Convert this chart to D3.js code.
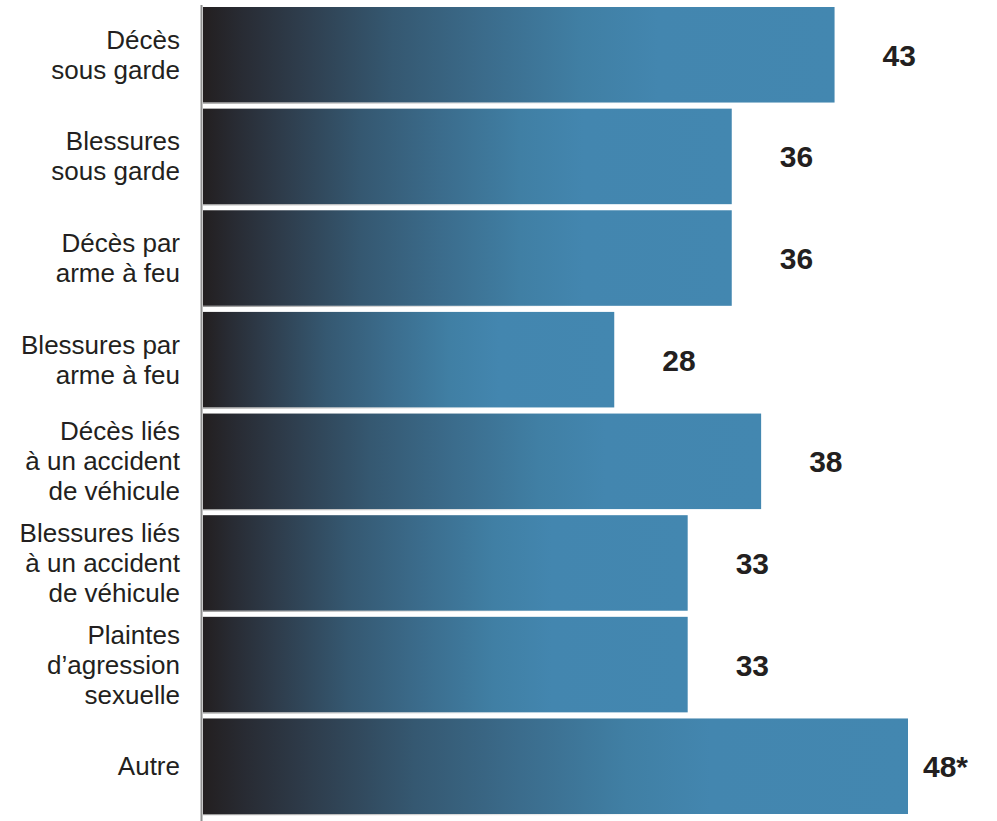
<!DOCTYPE html>
<html>
<head>
<meta charset="utf-8">
<script src="https://cdn.jsdelivr.net/npm/d3@7"></script>
<style>
  html, body { margin: 0; padding: 0; background: #fff; }
  svg { display: block; }
</style>
</head>
<body>
<svg id="chart" width="997" height="821"></svg>
<script>
// Categories (line breaks mark where each label wraps)
const categories = [
  "Décès\nsous garde",
  "Blessures\nsous garde",
  "Décès par\narme à feu",
  "Blessures par\narme à feu",
  "Décès liés\nà un accident\nde véhicule",
  "Blessures liés\nà un accident\nde véhicule",
  "Plaintes\nd’agression\nsexuelle",
  "Autre"
];
const values = [43, 36, 36, 28, 38, 33, 33, 48];
const valueLabels = ["43", "36", "36", "28", "38", "33", "33", "48*"];

const W = 997, H = 821;
const svg = d3.select("#chart");

const x = d3.scaleLinear().domain([0, 48]).range([203, 908]);
const y = d3.scaleBand()
  .domain(categories)
  .range([7, 814])
  .paddingInner(0.06)
  .paddingOuter(0);

// Per-bar horizontal gradient: near-black to steel blue
const defs = svg.append("defs");
const grad = defs.append("linearGradient")
  .attr("id", "barGrad")
  .attr("x1", "0").attr("x2", "1").attr("y1", "0").attr("y2", "0");
[
  [0, "#231f20"],
  [0.06, "#282b33"],
  [0.15, "#2e3c4b"],
  [0.30, "#355871"],
  [0.45, "#3b6c8c"],
  [0.60, "#407fa4"],
  [0.72, "#4386af"],
  [1, "#4387b0"]
].forEach(([o, c]) => grad.append("stop").attr("offset", o).attr("stop-color", c));

const shade = defs.append("linearGradient")
  .attr("id", "edgeGrad")
  .attr("x1", "0").attr("x2", "1").attr("y1", "0").attr("y2", "0");
shade.append("stop").attr("offset", 0).attr("stop-color", "#8c8c8c").attr("stop-opacity", 0.9);
shade.append("stop").attr("offset", 0.7).attr("stop-color", "#bdbdbd").attr("stop-opacity", 0);

// Bars
svg.append("g").selectAll("rect")
  .data(categories)
  .join("rect")
  .attr("x", x(0))
  .attr("y", d => y(d))
  .attr("width", (d, i) => x(values[i]) - x(0))
  .attr("height", y.bandwidth())
  .attr("fill", "url(#barGrad)");

// Faint lower edge under each bar
svg.append("g").selectAll("rect")
  .data(categories)
  .join("rect")
  .attr("x", x(0))
  .attr("y", d => y(d) + y.bandwidth())
  .attr("width", (d, i) => x(values[i]) - x(0))
  .attr("height", 1.2)
  .attr("fill", "url(#edgeGrad)");

// Vertical axis line
svg.append("line")
  .attr("x1", 201.5).attr("x2", 201.5)
  .attr("y1", 5).attr("y2", H)
  .attr("stroke", "#8f8f8f")
  .attr("stroke-width", 2);

// Category labels, right-aligned and vertically centred on each bar
const lineH = 30;
const catG = svg.append("g")
  .attr("font-family", "'Liberation Sans', Arial, sans-serif")
  .attr("font-size", 26)
  .attr("fill", "#231f20")
  .attr("text-anchor", "end");

categories.forEach(c => {
  const lines = c.split("\n");
  const cy = y(c) + y.bandwidth() / 2;
  const t = catG.append("text");
  lines.forEach((ln, j) => {
    t.append("tspan")
      .attr("x", 180)
      .attr("y", cy + (j - (lines.length - 1) / 2) * lineH + 9)
      .text(ln);
  });
});

// Value labels to the right of each bar (pulled in when they would overflow)
const valG = svg.append("g")
  .attr("font-family", "'Liberation Sans', Arial, sans-serif")
  .attr("font-size", 30)
  .attr("font-weight", "bold")
  .attr("fill", "#231f20");

categories.forEach((c, i) => {
  const t = valG.append("text")
    .attr("y", y(c) + y.bandwidth() / 2 + 11)
    .text(valueLabels[i]);
  const px = Math.min(x(values[i]) + 48, W - 74);
  t.attr("x", px);
});
</script>
</body>
</html>
